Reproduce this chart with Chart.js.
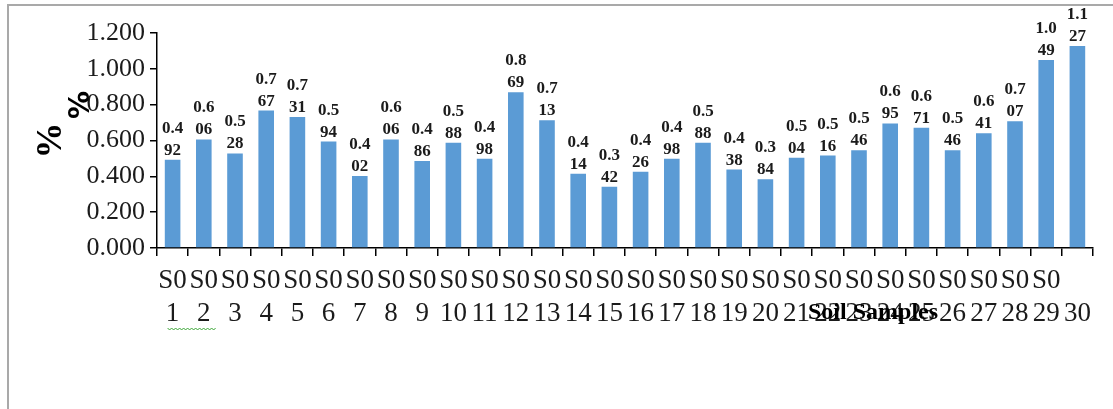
<!DOCTYPE html>
<html>
<head>
<meta charset="utf-8">
<script src="https://cdn.jsdelivr.net/npm/chart.js@4"></script>
<style>
  html, body { margin: 0; padding: 0; background: #fff; }
  #wrap { position: relative; width: 1113px; height: 409px; }
  #frame {
    position: absolute; left: 7px; top: 4px; right: 0; bottom: 0;
    border-top: 2px solid #a9a9a9; border-left: 2px solid #a9a9a9;
    pointer-events: none;
  }
</style>
</head>
<body>
<div id="wrap">
  <canvas id="soilChart" width="1113" height="409"></canvas>
  <div id="frame"></div>
</div>
<script>
// sample ids, split over two lines the way the labels wrap
const samplePrefix = ['S0','S0','S0','S0','S0','S0','S0','S0','S0','S0',
                      'S0','S0','S0','S0','S0','S0','S0','S0','S0','S0',
                      'S0','S0','S0','S0','S0','S0','S0','S0','S0',''];
const sampleNums = ['1','2','3','4','5','6','7','8','9','10',
                    '11','12','13','14','15','16','17','18','19','20',
                    '21','22','23','24','25','26','27','28','29','30'];
const percentValues = [0.492, 0.606, 0.528, 0.767, 0.731, 0.594, 0.402, 0.606, 0.486, 0.588,
                       0.498, 0.869, 0.713, 0.414, 0.342, 0.426, 0.498, 0.588, 0.438, 0.384,
                       0.504, 0.516, 0.546, 0.695, 0.671, 0.546, 0.641, 0.707, 1.049, 1.127];
const yTickLabels = ['0.000', '0.200', '0.400', '0.600', '0.800', '1.000', '1.200'];

const serif = "'Liberation Serif', 'Times New Roman', serif";
const ink = '#1b1b1b';

const categories = samplePrefix.map((p, i) => [p, sampleNums[i]]);

// value written above each bar, wrapped after the first three characters
const barValueLabels = {
    id: 'barValueLabels',
    afterDatasetsDraw(chart) {
        const ctx = chart.ctx;
        const meta = chart.getDatasetMeta(0);
        ctx.save();
        ctx.font = 'bold 17px ' + serif;
        ctx.fillStyle = ink;
        ctx.textAlign = 'center';
        ctx.textBaseline = 'alphabetic';
        meta.data.forEach((bar, i) => {
            const s = percentValues[i].toFixed(3);
            ctx.fillText(s.slice(3), bar.x, bar.y - 5);
            ctx.fillText(s.slice(0, 3), bar.x, bar.y - 27);
        });
        ctx.restore();
    }
};

// extra axis text: the bold "%" and the "Soil Samples" caption
const axisNotes = {
    id: 'axisNotes',
    afterDraw(chart) {
        const ctx = chart.ctx;
        const area = chart.chartArea;
        const xs = chart.scales.x;
        ctx.save();
        ctx.fillStyle = '#000';
        ctx.textAlign = 'center';
        ctx.textBaseline = 'middle';

        ctx.save();
        ctx.translate(area.left - 75, area.top + 72);
        ctx.rotate(-Math.PI / 2);
        ctx.font = "bold 28px 'DejaVu Sans', sans-serif";
        ctx.fillText('%', 0, 0);
        ctx.restore();

        ctx.font = 'bold 24px ' + serif;
        ctx.fillText('Soil Samples', area.left + (area.right - area.left) * 0.765, area.bottom + 65);

        // green squiggle under the first two labels
        const x0 = xs.getPixelForValue(0) - 5;
        const x1 = xs.getPixelForValue(1) + 11;
        const y0 = area.bottom + 80;
        ctx.strokeStyle = '#3aa635';
        ctx.lineWidth = 1;
        ctx.beginPath();
        ctx.moveTo(x0, y0);
        for (let x = x0, k = 0; x < x1; x += 2, k++) {
            ctx.lineTo(x + 2, y0 + (k % 2 ? 0 : 2));
        }
        ctx.stroke();
        ctx.restore();
    }
};

new Chart(document.getElementById('soilChart'), {
    type: 'bar',
    data: {
        labels: categories,
        datasets: [{
            data: percentValues,
            backgroundColor: '#5b9bd5',
            borderWidth: 0,
            barPercentage: 0.5,
            categoryPercentage: 1
        }]
    },
    options: {
        responsive: false,
        animation: false,
        layout: { padding: { left: 8, right: 20, top: 33, bottom: 81 } },
        plugins: {
            legend: { display: false },
            tooltip: { enabled: false }
        },
        scales: {
            x: {
                afterFit: s => { s.height = 80; },
                grid: {
                    offset: true,
                    drawOnChartArea: false,
                    tickLength: 8,
                    color: '#000',
                    lineWidth: 1.5
                },
                border: { color: '#000', width: 1.5 },
                ticks: {
                    autoSkip: false,
                    maxRotation: 0,
                    minRotation: 0,
                    padding: 8,
                    color: ink,
                    font: { family: serif, size: 27, lineHeight: 1.24 }
                }
            },
            y: {
                min: 0,
                max: 1.2,
                afterFit: s => { s.width = 149; },
                grid: {
                    drawOnChartArea: false,
                    tickLength: 7,
                    color: '#000',
                    lineWidth: 1.5
                },
                border: { color: '#000', width: 1.5 },
                ticks: {
                    stepSize: 0.2,
                    padding: 5,
                    color: ink,
                    font: { family: serif, size: 26 },
                    callback: (v, i) => yTickLabels[i]
                },
                title: {
                    display: true,
                    text: '%',
                    color: '#000',
                    padding: { top: 22, bottom: 0 },
                    font: { family: serif, size: 36, weight: 'bold', lineHeight: 1.2 }
                }
            }
        }
    },
    plugins: [barValueLabels, axisNotes]
});
</script>
</body>
</html>
